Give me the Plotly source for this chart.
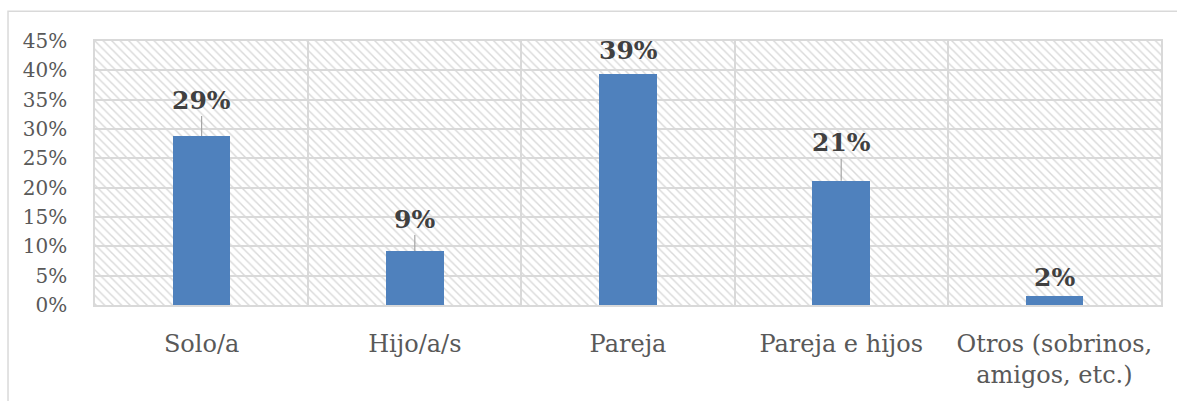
import plotly.graph_objects as go

# Household composition shares (percent)
categories = ["Solo/a", "Hijo/a/s", "Pareja", "Pareja e hijos", "Otros (sobrinos,<br>amigos, etc.)"]
shares = [28.8, 9.2, 39.4, 21.2, 1.6]
y_ticks = [0, 5, 10, 15, 20, 25, 30, 35, 40, 45]
y_tick_labels = [f"{t}%" for t in y_ticks]
y_max = 45

# pixel offset of each value label above its bar top; leader line where it is lifted far
label_offsets = [36, 32, 23, 38, 18]
label_leader = [True, True, False, True, False]

SERIF = "DejaVu Serif"
GRID = "#D9D9D9"

fig = go.Figure()

# hatched plot-area background, one full-width column per category
fig.add_trace(go.Bar(
    x=categories, y=[y_max] * len(categories), width=1.0,
    marker=dict(
        color="#D9D9D9", line=dict(width=0),
        pattern=dict(shape="\\", fillmode="replace", fgcolor="#D9D9D9",
                     bgcolor="rgba(0,0,0,0)", size=6, solidity=0.24),
    ),
    hoverinfo="skip", showlegend=False,
))

fig.add_trace(go.Bar(
    x=categories, y=shares, width=0.27,
    marker=dict(color="#4F81BD", line=dict(width=0)),
    showlegend=False,
))

for cat, val, off, leader in zip(categories, shares, label_offsets, label_leader):
    txt = f"<b>{round(val):.0f}%</b>"
    if leader:
        fig.add_annotation(
            x=cat, y=val, text=txt, showarrow=True, arrowhead=0, arrowwidth=1.2,
            arrowcolor="#A6A6A6", ax=0, ay=-off, standoff=0,
            font=dict(family=SERIF, size=25, color="#404040"),
        )
    else:
        fig.add_annotation(
            x=cat, y=val, text=txt, showarrow=False, yanchor="middle", yshift=off,
            font=dict(family=SERIF, size=25, color="#404040"),
        )

# chart frame
fig.add_shape(type="rect", xref="paper", yref="paper",
              x0=-0.0816, x1=1.2, y0=-0.6, y1=1.1128,
              line=dict(color=GRID, width=1.5), fillcolor="rgba(0,0,0,0)", layer="below")

fig.update_layout(
    width=1177, height=401,
    margin=dict(l=95, r=16, t=41, b=93),
    paper_bgcolor="white", plot_bgcolor="white",
    barmode="overlay", bargap=0,
    font=dict(family=SERIF, color="#595959"),
)
fig.update_xaxes(
    type="category", tickson="boundaries", showgrid=True, gridcolor=GRID, gridwidth=1.5,
    showline=True, linecolor=GRID, linewidth=2, mirror=True,
    ticks="", ticklabelstandoff=16, tickfont=dict(family=SERIF, size=24, color="#595959"),
)
fig.update_yaxes(
    range=[0, y_max], tickvals=y_ticks, ticktext=y_tick_labels,
    showgrid=True, gridcolor=GRID, gridwidth=1.5,
    showline=True, linecolor=GRID, linewidth=1.5, mirror=True, zeroline=False,
    ticks="", ticklabelstandoff=22, tickfont=dict(family=SERIF, size=20, color="#595959"),
)

fig.write_html("out.html")
